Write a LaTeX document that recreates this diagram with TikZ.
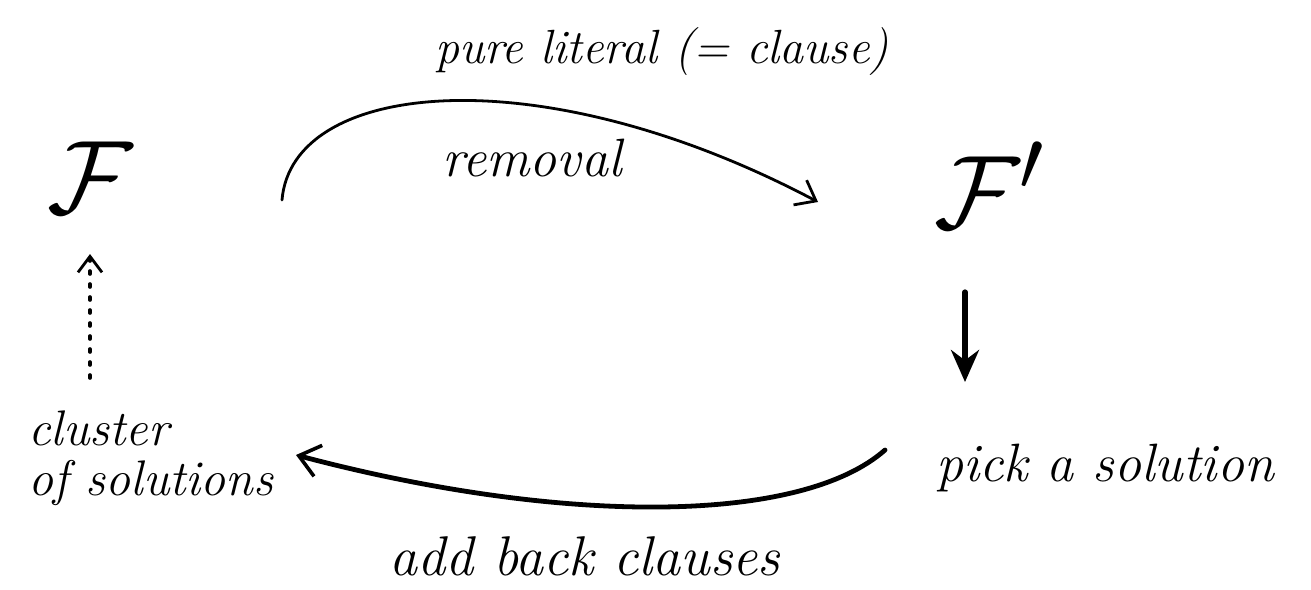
\documentclass[tikz,border=0pt]{standalone}
\usepackage{graphicx}
\usetikzlibrary{arrows.meta}
\begin{document}
\begin{tikzpicture}[x=0.5pt,y=-0.5pt,
  hand/.style={font=\fontsize{#1}{#1}\selectfont\itshape, inner sep=0pt},
  bigF/.style={font=\Huge, inner sep=0pt},
  conn/.style={line width=1.4pt, line cap=round, -{Straight Barb[length=9pt,width=14pt,line width=1.4pt]}},
  thickconn/.style={line width=2.4pt, line cap=round, -{Straight Barb[length=10pt,width=16pt,line width=1.8pt]}},
  downconn/.style={line width=2.6pt, line cap=round, -{Stealth[length=16pt,width=14pt]}},
  dotconn/.style={line width=1.8pt, dash pattern=on 1.5pt off 5pt, line cap=round, -{Straight Barb[length=8pt,width=12pt,line width=1.4pt,sep=2pt]}}]
\useasboundingbox (0,0) rectangle (1311,589);
% nodes
\node[bigF] (F) at (90,178) {\scalebox{2.1}{$\mathcal{F}$}};
\node[bigF] (Fp) at (990,185) {\scalebox{2.1}{$\mathcal{F}'$}};
\node[hand=24] (pure) at (662,52) {pure literal (= clause)};
\node[hand=27] (rem) at (532,158) {removal};
\node[hand=27] (pick) at (1105,468) {pick a solution};
\node[hand=25, align=left, anchor=west] (clus) at (28,458) {cluster\\of solutions};
\node[hand=28] (add) at (585,556) {add back clauses};
% connector end points
\coordinate (a1) at (282,200);
\coordinate (a2) at (818,202);
\coordinate (b1) at (965,292);
\coordinate (b2) at (965,382);
\coordinate (c1) at (885,450);
\coordinate (c2) at (296,455);
\coordinate (d1) at (90,378);
\coordinate (d2) at (90,250);
% connectors
\draw[conn] (a1) .. controls (292,80) and (540,55) .. (a2);
\draw[downconn] (b1) -- (b2);
\draw[thickconn] (c1) .. controls (800,525) and (560,525) .. (c2);
\draw[dotconn] (d1) -- (d2);
\end{tikzpicture}
\end{document}
